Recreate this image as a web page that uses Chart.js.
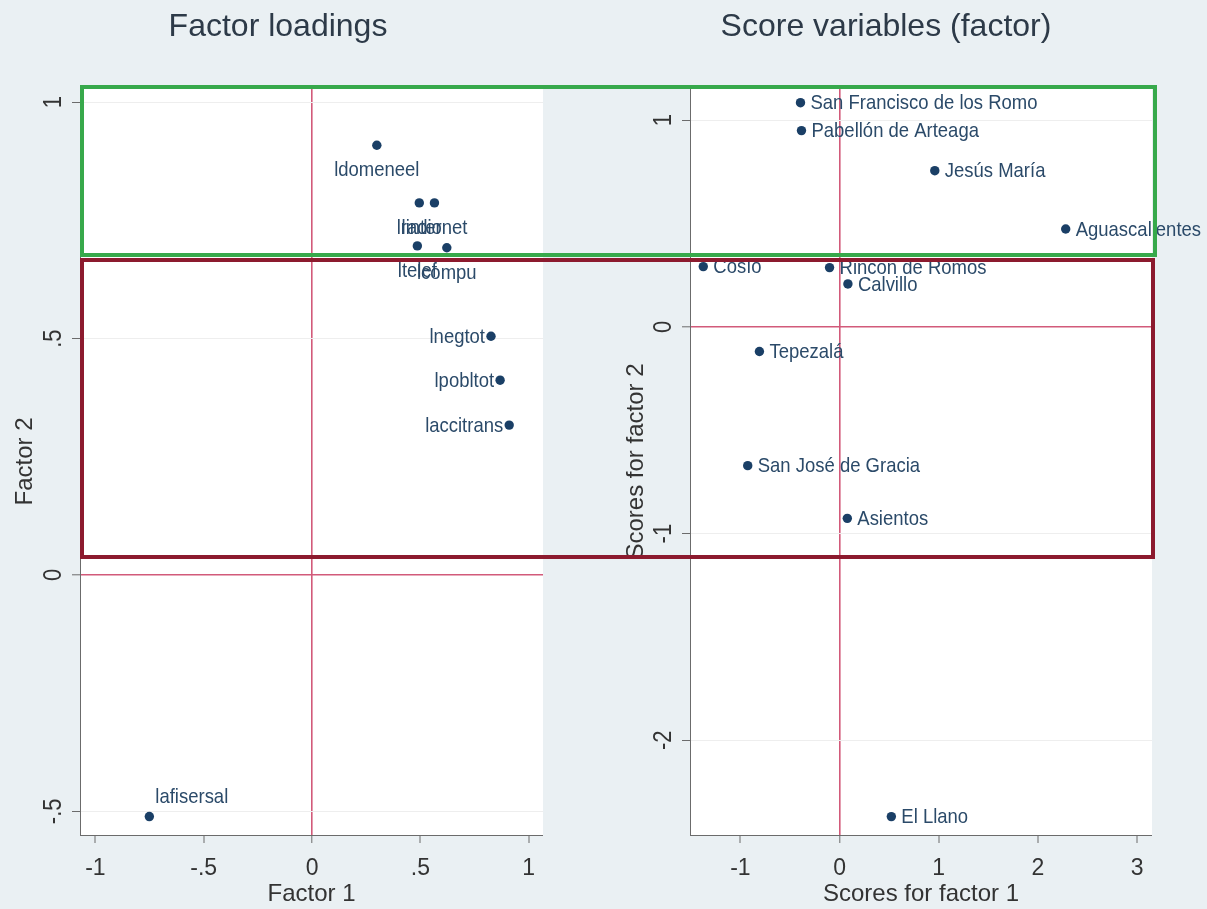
<!DOCTYPE html>
<html>
<head>
<meta charset="utf-8">
<script src="https://cdn.jsdelivr.net/npm/chart.js@4.4.1/dist/chart.umd.min.js"></script>
<style>
  html, body { margin: 0; padding: 0; background: #eaf0f3; }
  #wrap { position: relative; width: 1207px; height: 909px; overflow: hidden; }
  canvas { position: absolute; top: 0; }
  #loadings { left: 13px; }
  #scores { left: 620px; }
  .box { position: absolute; box-sizing: border-box; pointer-events: none; }
  #greenBox { left: 80px; top: 85px; width: 1077px; height: 172px; border: 4px solid #37a94b; }
  #redBox { left: 80px; top: 258px; width: 1075px; height: 301px; border: 4px solid #8c1a2e; }
</style>
</head>
<body>
<div id="wrap">
  <canvas id="loadings" width="590" height="909"></canvas>
  <canvas id="scores" width="587" height="909"></canvas>
  <div class="box" id="greenBox"></div>
  <div class="box" id="redBox"></div>
</div>
<script>
// factor loadings
const loadingNames = ['ldomeneel', 'lradio', 'linternet', 'ltelef', 'lcompu', 'lnegtot', 'lpobltot', 'laccitrans', 'lafisersal'];
const factor1 = [0.299, 0.495, 0.565, 0.486, 0.622, 0.826, 0.868, 0.910, -0.751];
const factor2 = [0.909, 0.787, 0.787, 0.696, 0.692, 0.505, 0.412, 0.317, -0.511];
// label placement, Stata clock positions
const loadingLabelPos = [6, 6, 6, 6, 6, 9, 9, 9, 1];

const loadingXTicks = [-1, -0.5, 0, 0.5, 1];
const loadingXTickLabels = ['-1', '-.5', '0', '.5', '1'];
const loadingYTicks = [-0.5, 0, 0.5, 1];
const loadingYTickLabels = ['-.5', '0', '.5', '1'];
const loadingXRange = [-1.071, 1.066];
const loadingYRange = [-0.55, 1.03];

// factor scores by municipality
const municipios = ['San Francisco de los Romo', 'Pabellón de Arteaga', 'Jesús María', 'Aguascalientes', 'Cosío',
  'Rincón de Romos', 'Calvillo', 'Tepezalá', 'San José de Gracia', 'Asientos', 'El Llano'];
const score1 = [-0.394, -0.384, 0.960, 2.280, -1.374, -0.101, 0.084, -0.808, -0.926, 0.078, 0.522];
const score2 = [1.085, 0.950, 0.756, 0.474, 0.292, 0.287, 0.208, -0.119, -0.671, -0.926, -2.369];

const scoreXTicks = [-1, 0, 1, 2, 3];
const scoreXTickLabels = ['-1', '0', '1', '2', '3'];
const scoreYTicks = [-2, -1, 0, 1];
const scoreYTickLabels = ['-2', '-1', '0', '1'];
const scoreXRange = [-1.508, 3.15];
const scoreYRange = [-2.458, 1.156];

const font = '"Liberation Sans", Arial, sans-serif';
const pink = '#d25a7a';
const axisGrey = '#6b6b6b';
const textColor = '#333333';
const squeeze = 0.88; // original text is set in a narrow face

Chart.defaults.font.family = font;

const plotBackground = {
  id: 'plotBackground',
  beforeDraw(chart) {
    const { ctx, chartArea: a } = chart;
    ctx.save();
    ctx.fillStyle = '#ffffff';
    ctx.fillRect(a.left, a.top, a.right - a.left, a.bottom - a.top);
    ctx.restore();
  }
};

// y tick labels are vertical in the original
function rotatedYTicks(labels) {
  return {
    id: 'rotatedYTicks',
    afterDraw(chart) {
      const s = chart.scales.y;
      const ctx = chart.ctx;
      ctx.save();
      ctx.font = '25px ' + font;
      ctx.fillStyle = textColor;
      ctx.textAlign = 'center';
      ctx.textBaseline = 'middle';
      s.ticks.forEach((t, i) => {
        ctx.save();
        ctx.translate(s.right - 26, s.getPixelForValue(t.value));
        ctx.rotate(-Math.PI / 2);
        ctx.scale(squeeze, 1);
        ctx.fillText(labels[i], 0, 0);
        ctx.restore();
      });
      ctx.restore();
    }
  };
}

function markerLabels(names, pos) {
  return {
    id: 'markerLabels',
    afterDatasetsDraw(chart) {
      const ctx = chart.ctx;
      const meta = chart.getDatasetMeta(0);
      ctx.save();
      ctx.font = '21px ' + font;
      ctx.fillStyle = '#2b4a69';
      ctx.textBaseline = 'middle';
      meta.data.forEach((pt, i) => {
        const p = pos ? pos[i] : 3;
        let x = pt.x, y = pt.y;
        if (p === 6) { ctx.textAlign = 'center'; y += 25; }
        else if (p === 9) { ctx.textAlign = 'right'; x -= 6; y += 1; }
        else if (p === 1) { ctx.textAlign = 'left'; x += 6; y -= 19; }
        else { ctx.textAlign = 'left'; x += 10; y += 1; }
        ctx.save();
        ctx.translate(x, y);
        ctx.scale(squeeze, 1);
        ctx.fillText(names[i], 0, 0);
        ctx.restore();
      });
      ctx.restore();
    }
  };
}

function makeChart(id, cfg) {
  const points = cfg.xs.map((x, i) => ({ x: x, y: cfg.ys[i] }));
  return new Chart(document.getElementById(id), {
    type: 'scatter',
    data: {
      datasets: [{
        data: points,
        pointRadius: 4.7,
        pointBackgroundColor: '#1a3f66',
        pointBorderWidth: 0,
        clip: false
      }]
    },
    options: {
      responsive: false,
      animation: false,
      events: [],
      layout: { padding: { left: 0, right: cfg.padRight, top: 0, bottom: 0 } },
      plugins: {
        legend: { display: false },
        tooltip: { enabled: false },
        title: {
          display: true,
          text: cfg.title,
          color: '#2d3a48',
          font: { size: 32, weight: 'normal', lineHeight: 1.2 },
          padding: { top: 8, bottom: 41.6 }
        }
      },
      scales: {
        x: {
          type: 'linear',
          min: cfg.xRange[0],
          max: cfg.xRange[1],
          afterBuildTicks: s => { s.ticks = cfg.xTicks.map(v => ({ value: v })); },
          afterFit: s => { s.height = 74; },
          border: { display: true, color: axisGrey, width: 1 },
          grid: {
            color: c => (c.tick && c.tick.value === 0 ? pink : 'rgba(0,0,0,0)'),
            lineWidth: c => (c.tick && c.tick.value === 0 ? 1.6 : 0),
            tickLength: 8,
            tickColor: axisGrey,
            tickWidth: 1
          },
          ticks: {
            padding: 12,
            color: textColor,
            font: { size: 23 },
            maxRotation: 0,
            autoSkip: false,
            callback: v => cfg.xTickLabels[cfg.xTicks.indexOf(v)]
          },
          title: {
            display: true,
            text: cfg.xTitle,
            color: textColor,
            font: { size: 24, lineHeight: 1 },
            padding: { top: 0, bottom: 3 }
          }
        },
        y: {
          type: 'linear',
          min: cfg.yRange[0],
          max: cfg.yRange[1],
          afterBuildTicks: s => { s.ticks = cfg.yTicks.map(v => ({ value: v })); },
          afterFit: s => { s.width = cfg.yWidth; },
          border: { display: true, color: axisGrey, width: 1 },
          grid: {
            color: c => (c.tick && c.tick.value === 0 ? pink : '#eeeeee'),
            lineWidth: c => (c.tick && c.tick.value === 0 ? 1.6 : 1),
            tickLength: 8,
            tickColor: axisGrey,
            tickWidth: 1
          },
          ticks: { display: false },
          title: {
            display: true,
            text: cfg.yTitle,
            color: textColor,
            font: { size: 24, lineHeight: 1 },
            padding: { top: cfg.yTitlePad, bottom: 0 }
          }
        }
      }
    },
    plugins: [plotBackground, rotatedYTicks(cfg.yTickLabels), markerLabels(cfg.names, cfg.pos)]
  });
}

makeChart('loadings', {
  title: 'Factor loadings',
  xs: factor1, ys: factor2, names: loadingNames, pos: loadingLabelPos,
  xRange: loadingXRange, yRange: loadingYRange,
  xTicks: loadingXTicks, xTickLabels: loadingXTickLabels,
  yTicks: loadingYTicks, yTickLabels: loadingYTickLabels,
  xTitle: 'Factor 1', yTitle: 'Factor 2',
  padRight: 60, yWidth: 67, yTitlePad: 0
});

makeChart('scores', {
  title: 'Score variables (factor)',
  xs: score1, ys: score2, names: municipios, pos: null,
  xRange: scoreXRange, yRange: scoreYRange,
  xTicks: scoreXTicks, xTickLabels: scoreXTickLabels,
  yTicks: scoreYTicks, yTickLabels: scoreYTickLabels,
  xTitle: 'Scores for factor 1', yTitle: 'Scores for factor 2',
  padRight: 55, yWidth: 70, yTitlePad: 4
});
</script>
</body>
</html>
